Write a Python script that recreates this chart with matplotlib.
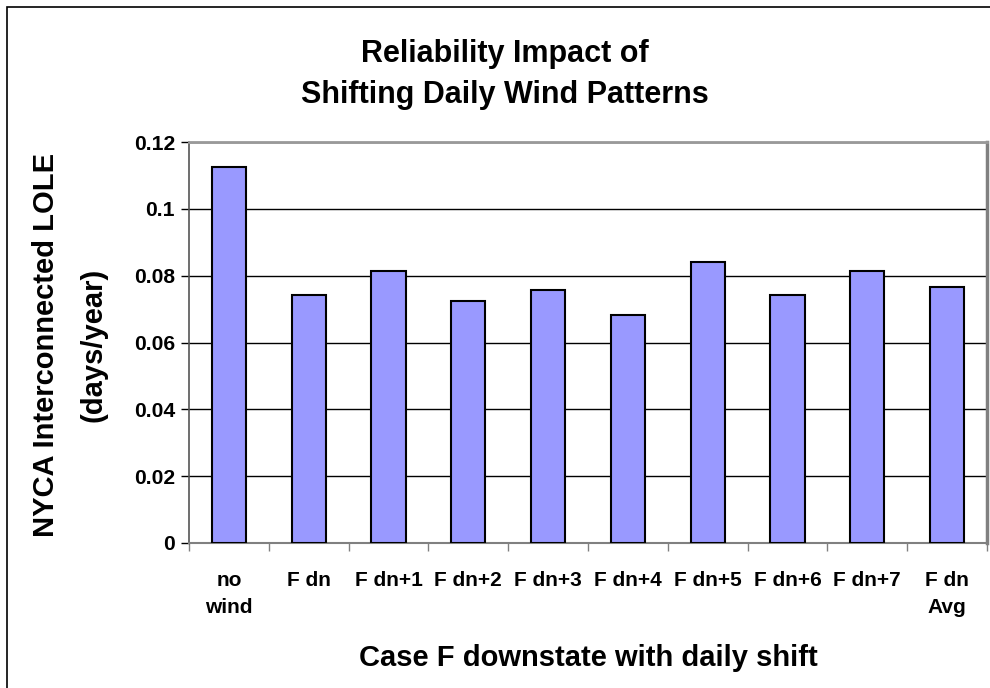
import numpy as np
import matplotlib.pyplot as plt
from matplotlib.patches import Rectangle

plt.rcParams['font.family'] = ['Liberation Sans', 'DejaVu Sans']
plt.rcParams['font.weight'] = 'bold'

# cases on the x axis
cases = ["no\nwind", "F dn", "F dn+1", "F dn+2", "F dn+3", "F dn+4",
         "F dn+5", "F dn+6", "F dn+7", "F dn\nAvg"]
# LOLE (days/year)
lole = [0.1124, 0.0742, 0.0813, 0.0723, 0.0758, 0.0682,
        0.0842, 0.0742, 0.0813, 0.0766]

yticks = [0, 0.02, 0.04, 0.06, 0.08, 0.1, 0.12]
ytick_labels = ["0", "0.02", "0.04", "0.06", "0.08", "0.1", "0.12"]

W, H = 990, 688
fig = plt.figure(figsize=(W / 100, H / 100), dpi=100)
ax = fig.add_axes([189 / W, 1 - 543 / H, (987 - 189) / W, (543 - 142) / H])

x = np.arange(len(cases))
ax.bar(x, lole, width=0.43, color='#9999FF', edgecolor='black', linewidth=1.5, zorder=3)

ax.set_xlim(-0.5, len(cases) - 0.5)
ax.set_ylim(0, 0.12)

# horizontal gridlines
ax.set_yticks(yticks)
ax.set_yticklabels(ytick_labels)
ax.yaxis.grid(True, color='black', linewidth=1)
ax.set_axisbelow(True)
ax.tick_params(axis='y', direction='out', length=6, width=1, color='black',
               labelsize=15.2, pad=4)

# category labels at centres, tick marks at boundaries
ax.set_xticks(x)
ax.set_xticklabels(cases, linespacing=1.55)
ax.set_xticks(np.arange(-0.5, len(cases)), minor=True)
ax.tick_params(axis='x', which='major', length=0, labelsize=15, pad=20)
ax.tick_params(axis='x', which='minor', direction='out', length=6, width=1, color='#808080')
for lab in ax.get_xticklabels():
    lab.set_va('top')

ax.spines['top'].set_color('#999999')
ax.spines['top'].set_linewidth(2)
ax.spines['right'].set_color('#808080')
ax.spines['right'].set_linewidth(2.5)
ax.spines['left'].set_color('#555555')
ax.spines['left'].set_linewidth(1.2)
ax.spines['bottom'].set_color('#808080')
ax.spines['bottom'].set_linewidth(1.5)

# title
fig.text(505 / W, 1 - 62 / H, "Reliability Impact of", ha='center', va='baseline',
         fontsize=22, fontweight='bold')
fig.text(505 / W, 1 - 103 / H, "Shifting Daily Wind Patterns", ha='center', va='baseline',
         fontsize=22, fontweight='bold')

# y label (two lines)
fig.text(60 / W, 1 - 345 / H, "NYCA Interconnected LOLE", rotation=90, ha='right',
         va='center', fontsize=21, fontweight='bold')
fig.text(108 / W, 1 - 345 / H, "(days/year)", rotation=90, ha='right',
         va='center', fontsize=21, fontweight='bold')

# x label
fig.text(588 / W, 1 - 658 / H, "Case F downstate with daily shift", ha='center',
         va='center', fontsize=21, fontweight='bold')

# outer chart border
fig.patches.append(Rectangle((7 / W, -0.1), 1.2, 1.1 - 7 / H, transform=fig.transFigure,
                             fill=False, edgecolor='black', linewidth=1.2))

fig.savefig("out.png", dpi=100)
